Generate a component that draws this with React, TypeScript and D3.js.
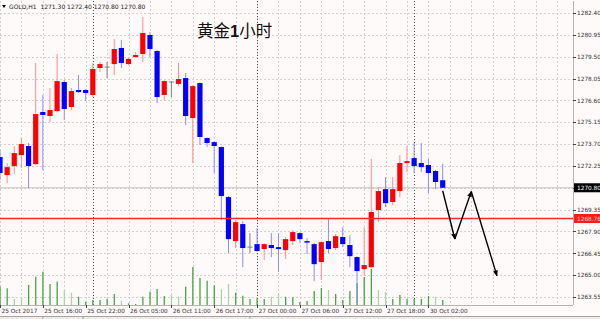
import React from "react";
import * as d3 from "d3";

const W = 600;
const H = 319;

const opens = [1272.84,1271.64,1272.24,1272.97,1273.57,1272.37,1275.83,1275.56,1275.89,1277.82,1276.16,1277.29,1277.29,1276.96,1278.75,1278.81,1279.01,1280.08,1279.01,1279.48,1279.68,1280.94,1279.88,1276.96,1277.82,1277.69,1278.08,1275.43,1277.75,1274.10,1273.83,1273.50,1270.18,1267.26,1268.39,1266.86,1267.06,1266.73,1267.00,1266.86,1266.66,1267.26,1267.79,1267.26,1267.06,1265.87,1267.26,1266.80,1267.53,1267.00,1266.20,1265.40,1265.53,1269.32,1270.71,1269.85,1270.58,1272.44,1272.77,1272.44,1272.31,1271.91,1271.30];
const highs = [1273.30,1272.44,1273.57,1274.10,1273.77,1279.08,1276.96,1277.42,1279.68,1277.95,1277.42,1278.28,1277.35,1279.08,1279.15,1279.15,1280.67,1280.61,1279.41,1279.81,1282.13,1281.14,1279.95,1277.95,1277.88,1279.08,1278.42,1277.60,1277.80,1274.15,1273.90,1273.55,1270.25,1268.66,1268.59,1267.79,1268.12,1267.10,1267.79,1267.79,1267.53,1267.99,1267.85,1267.46,1267.13,1267.22,1268.79,1267.73,1268.19,1267.66,1266.25,1268.19,1272.71,1270.85,1271.51,1271.51,1272.97,1273.57,1273.77,1273.77,1272.71,1271.98,1272.40];
const lows = [1271.31,1271.11,1271.71,1272.11,1270.78,1272.31,1271.98,1275.16,1275.83,1275.30,1275.96,1277.09,1276.56,1276.82,1278.48,1278.08,1278.28,1278.75,1278.95,1279.41,1279.15,1279.48,1276.42,1276.62,1276.82,1277.55,1274.96,1272.44,1273.64,1273.50,1271.78,1268.66,1266.46,1266.80,1265.53,1266.46,1266.55,1266.00,1266.20,1265.20,1266.07,1267.00,1267.13,1266.40,1264.60,1264.67,1266.46,1266.66,1266.86,1265.53,1263.14,1264.94,1265.46,1268.52,1269.52,1269.65,1270.18,1271.84,1271.78,1271.84,1270.45,1270.71,1270.80];
const closes = [1271.78,1272.17,1273.10,1273.70,1272.24,1275.69,1275.63,1275.96,1277.88,1276.03,1277.22,1277.15,1277.09,1278.68,1279.01,1278.81,1280.01,1279.08,1279.35,1279.61,1281.07,1280.01,1276.82,1277.88,1277.82,1278.02,1275.56,1277.55,1274.17,1273.77,1273.57,1270.25,1267.39,1268.52,1266.80,1266.86,1266.60,1267.06,1266.80,1266.73,1267.39,1267.86,1267.39,1267.19,1265.73,1267.19,1266.73,1267.59,1267.06,1266.26,1265.27,1265.67,1269.19,1270.58,1269.78,1270.71,1272.44,1272.57,1272.24,1272.17,1271.78,1271.18,1270.80];
const volumes = [1830,1670,600,730,2000,2830,3330,2100,2330,1500,1230,830,330,500,500,600,1100,430,170,100,830,1330,1600,900,1000,830,1830,3800,2700,2430,1970,1570,2100,1230,930,600,670,600,830,1170,830,770,300,400,1400,1700,1500,1100,500,1400,2200,2800,3600,1500,1300,600,1000,600,600,600,900,800,500];
const lightVolumeBars = [2,3,9,10,17,24,25,31,32,38,39,46,53,54,61];

const priceTicks = ["1282.40","1280.95","1279.50","1278.05","1276.60","1275.15","1273.70","1272.25","1270.80","1269.35","1267.90","1266.45","1265.00","1263.55"];
const timeLabelBars = [0,6,12,18,24,30,36,42,48,54,60];
const timeLabels = ["25 Oct 2017","25 Oct 16:00","25 Oct 22:00","26 Oct 05:00","26 Oct 11:00","26 Oct 17:00","27 Oct 00:00","27 Oct 06:00","27 Oct 12:00","27 Oct 18:00","30 Oct 02:00"];
const daySeparatorBars = [13,36,58];

const bidPrice = 1270.80;
const linePrice = 1268.76;
const headerText = "GOLD,H1  1271.30 1272.40 1270.80 1270.80";
const title = ["黄金", "1", "小时"];

// projected path: [bar index, price]
const arrowBars = [62, 63.7, 66, 69.6];
const arrowPrices = [1270.60, 1267.40, 1270.55, 1264.95];

const PL = 0, PR = 573, PT = 1, PB = 305;

export default function App() {
  const n = opens.length;
  const x = d3.scaleLinear().domain([0, n - 1]).range([0, 442.7]);
  const y = d3.scaleLinear().domain([1263.55, 1282.40]).range([297, 13]);
  const vy = d3.scaleLinear().domain([0, 4000]).range([PB, PB - 40]);
  const barStep = x(1) - x(0);
  const bodyW = 5.2;

  const gridBars = d3.range(0, 81, 3);
  const lightSet = new Set(lightVolumeBars);

  const arrowSegs = d3.range(arrowBars.length - 1).map((k) => ({
    x1: x(arrowBars[k]), y1: y(arrowPrices[k]),
    x2: x(arrowBars[k + 1]), y2: y(arrowPrices[k + 1]),
  }));

  const font = "Tahoma, 'DejaVu Sans', 'Liberation Sans', sans-serif";

  return (
    <svg width={W} height={H} style={{ position: "absolute", left: 0, top: 0, background: "#fffafa" }} fontFamily={font}>
      <defs>
        <clipPath id="plotClip">
          <rect x={PL} y={PT} width={PR - PL} height={PB - PT} />
        </clipPath>
        <marker id="ah" viewBox="0 0 10 10" refX="9" refY="5" markerWidth="6" markerHeight="6" orient="auto-start-reverse" markerUnits="userSpaceOnUse">
          <path d="M0,1 L10,5 L0,9 Z" fill="#000" />
        </marker>
      </defs>
      <rect x={0} y={0} width={W} height={H} fill="#fffafa" />

      <g clipPath="url(#plotClip)">
        {/* horizontal grid */}
        {priceTicks.map((t) => (
          <line key={"hg" + t} x1={PL} x2={PR} y1={Math.round(y(+t)) + 0.5} y2={Math.round(y(+t)) + 0.5} stroke="#d6d0d0" strokeDasharray="2,2" strokeWidth={1} />
        ))}
        {/* vertical grid */}
        {gridBars.map((b) => (
          <line key={"vg" + b} x1={Math.round(x(b)) + 0.5} x2={Math.round(x(b)) + 0.5} y1={PT} y2={PB} stroke="#d6d0d0" strokeDasharray="2,2" strokeWidth={1} />
        ))}
        {/* day separators */}
        {daySeparatorBars.map((b) => (
          <line key={"sep" + b} x1={Math.round(x(b)) + 0.5} x2={Math.round(x(b)) + 0.5} y1={PT} y2={PB} stroke="#555" strokeDasharray="1,2" strokeWidth={1} />
        ))}
        {/* bid line */}
        <line x1={PL} x2={PR} y1={y(bidPrice)} y2={y(bidPrice)} stroke="#c8c4c4" strokeWidth={1} />

        {/* volumes */}
        {volumes.map((v, i) => (
          <rect key={"v" + i} x={x(i) - 0.6} y={vy(v)} width={1.3} height={PB - vy(v)} fill={lightSet.has(i) ? "#a9d6a9" : "#47a447"} />
        ))}

        {/* candles */}
        {opens.map((o, i) => {
          const c = closes[i];
          const cx = x(i);
          const up = c > o;
          const doji = c === o;
          const bodyCol = doji ? "#808080" : up ? "#ff0000" : "#0000ff";
          const wickCol = doji ? "#808080" : up ? "#ff8c8c" : "#8c8cff";
          const top = y(Math.max(o, c));
          const bot = y(Math.min(o, c));
          return (
            <g key={"c" + i}>
              <line x1={cx} x2={cx} y1={y(highs[i])} y2={y(lows[i])} stroke={wickCol} strokeWidth={1} />
              {doji ? (
                <line x1={cx - bodyW / 2} x2={cx + bodyW / 2} y1={top} y2={top} stroke={bodyCol} strokeWidth={1} />
              ) : (
                <rect x={cx - bodyW / 2} y={top} width={bodyW} height={Math.max(1.5, bot - top)} fill={bodyCol} />
              )}
            </g>
          );
        })}

        {/* horizontal line */}
        <line x1={PL} x2={PR} y1={y(linePrice)} y2={y(linePrice)} stroke="#ff2a2a" strokeWidth={1.6} />

        {/* projected arrows */}
        {arrowSegs.map((s, k) => (
          <line key={"a" + k} x1={s.x1} y1={s.y1} x2={s.x2} y2={s.y2} stroke="#000" strokeWidth={1.4} markerEnd="url(#ah)" />
        ))}
      </g>

      {/* frame */}
      <line x1={PR + 0.5} x2={PR + 0.5} y1={PT} y2={PB} stroke="#b8b4b4" strokeWidth={1} />
      <line x1={PL} x2={PR} y1={PB + 0.5} y2={PB + 0.5} stroke="#b8b4b4" strokeWidth={1} />

      {/* header */}
      <path d="M2,5 L6,5 L4,8 Z" fill="#000" />
      <text x={9} y={9} fontSize={6} fill="#222" style={{ whiteSpace: "pre" }}>{headerText}</text>

      {/* title */}
      <text x={197} y={37} fontSize={16.5} fill="#111" fontFamily="'Noto Sans CJK SC', sans-serif">
        <tspan>{title[0]}</tspan>
        <tspan fontWeight="bold" fontFamily="'Liberation Sans', Arial, sans-serif">{title[1]}</tspan>
        <tspan>{title[2]}</tspan>
      </text>

      {/* right axis */}
      {priceTicks.map((t) => (
        <g key={"pt" + t}>
          <line x1={PR} x2={PR + 3} y1={Math.round(y(+t)) + 0.5} y2={Math.round(y(+t)) + 0.5} stroke="#444" strokeWidth={1} />
          <text x={577} y={y(+t) + 2.2} fontSize={5.8} fill="#333">{t}</text>
        </g>
      ))}
      <rect x={574} y={y(bidPrice) - 4.5} width={26} height={9} fill="#000" />
      <text x={577} y={y(bidPrice) + 2.2} fontSize={5.8} fill="#fff">{bidPrice.toFixed(2)}</text>
      <rect x={574} y={y(linePrice) - 4.5} width={26} height={9} fill="#ff1a1a" />
      <text x={577} y={y(linePrice) + 2.2} fontSize={5.8} fill="#ffd0d0">{linePrice.toFixed(2)}</text>

      {/* bottom axis */}
      {timeLabelBars.map((b, k) => (
        <g key={"tl" + b}>
          <line x1={Math.round(x(b)) + 0.5} x2={Math.round(x(b)) + 0.5} y1={PB} y2={PB + 3} stroke="#444" strokeWidth={1} />
          <text x={x(b) + 1.5} y={313} fontSize={5.8} fill="#333">{timeLabels[k]}</text>
        </g>
      ))}

      {/* tab bar */}
      <rect x={0} y={316.5} width={W} height={3} fill="#eeeaea" />
      <line x1={0} x2={W} y1={316.5} y2={316.5} stroke="#a8a4a4" strokeWidth={1} />
      <path d={`M${x(6)},316.5 L${x(6)},319 M${x(12)*0 + 83},316.5 L83,319 M${x(35)},316.5 L${x(35)},319`} stroke="#a8a4a4" fill="none" />
    </svg>
  );
}
